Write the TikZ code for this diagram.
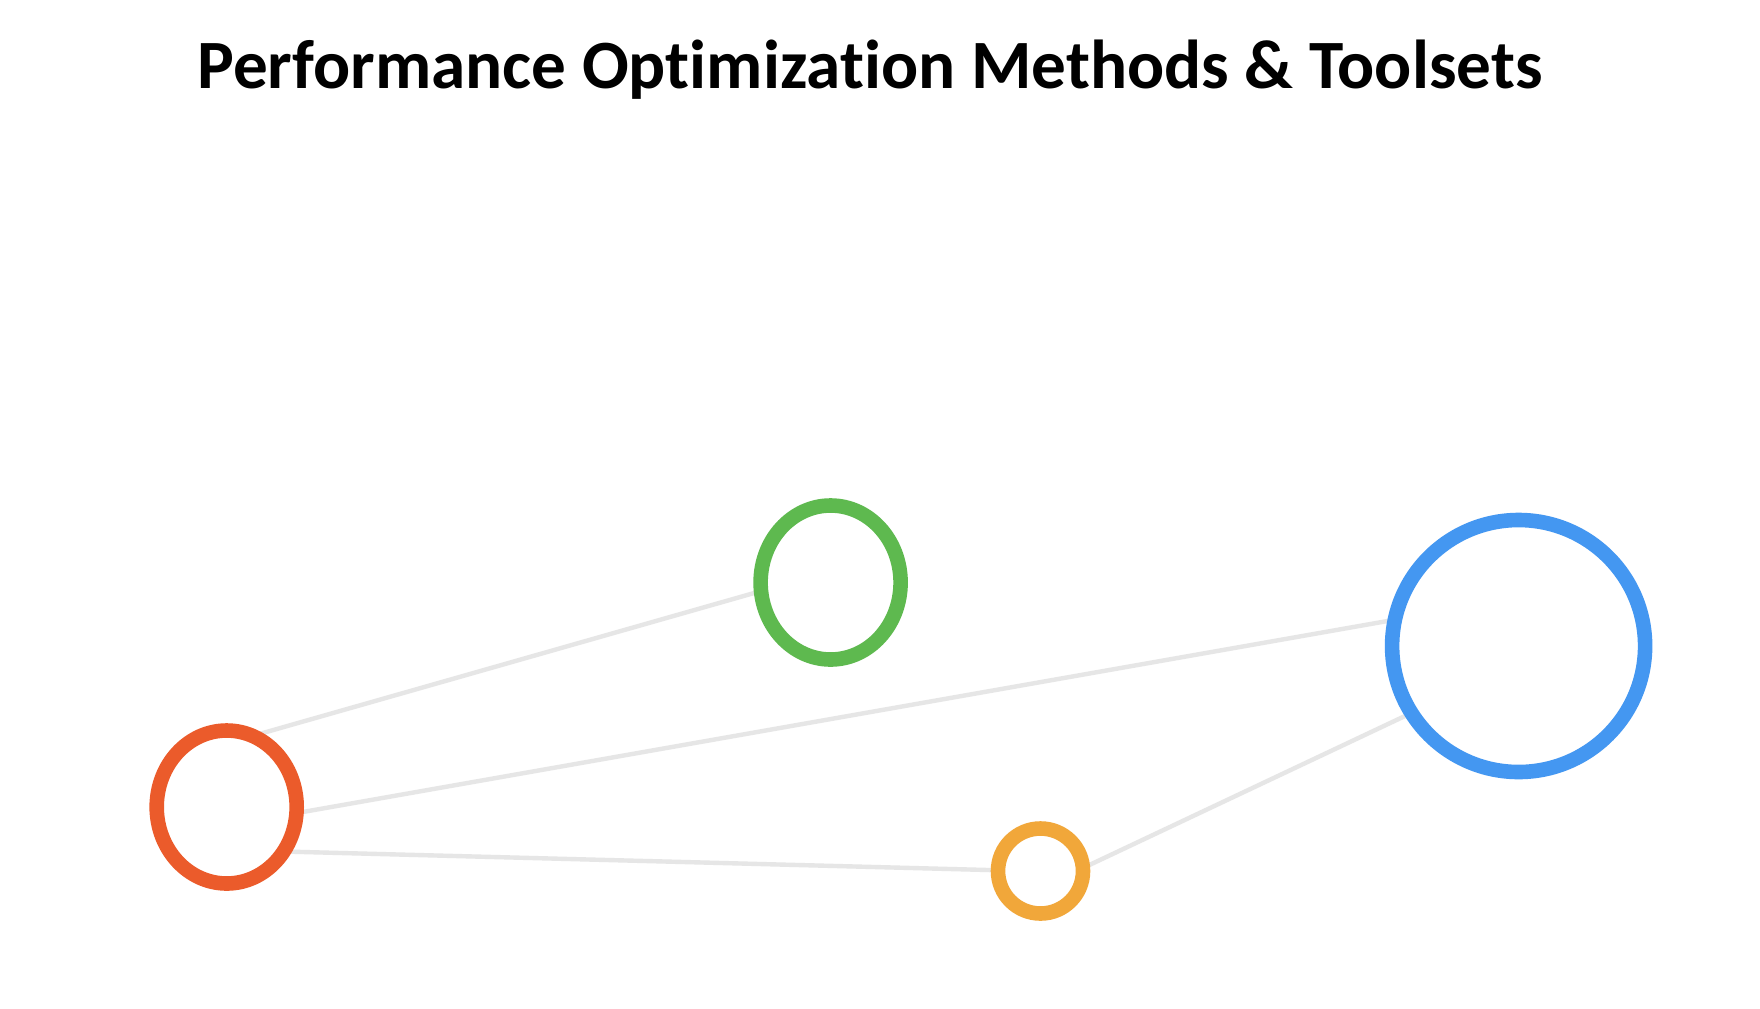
\documentclass[tikz,border=0pt]{standalone}
\usepackage{fontspec}
\setmainfont{Carlito}[RawFeature={-liga}]
\usetikzlibrary{shapes.geometric,backgrounds}
\definecolor{cred}{HTML}{EB5B2B}
\definecolor{cgreen}{HTML}{5EB94F}
\definecolor{cblue}{HTML}{4497F1}
\definecolor{corange}{HTML}{F1A73A}
\definecolor{clink}{HTML}{E6E6E6}
\begin{document}
\begin{tikzpicture}[x=0.5pt,y=-0.5pt,
  ring/.style={ellipse,draw,line width=7.3pt,inner sep=0pt,outer sep=0pt,fill=white},
  link/.style={draw=clink,line width=2.2pt,line cap=round}]
\useasboundingbox (0,0) rectangle (1760,1008);
\node[anchor=base,font=\bfseries\fontsize{34.6}{42}\selectfont] (title) at (870,88) {Performance Optimization Methods \& Toolsets};
\node[ring,draw=cred,minimum width=70pt,minimum height=76.5pt] (red) at (226.7,807) {};
\node[ring,draw=cgreen,minimum width=70pt,minimum height=77pt] (green) at (830.6,582.5) {};
\node[ring,draw=cblue,minimum width=126.5pt,minimum height=126pt] (blue) at (1518.6,646) {};
\node[ring,draw=corange,minimum width=42.5pt,minimum height=42.5pt] (orange) at (1040.5,871) {};
\begin{scope}[on background layer]
\fill[white] (0,0) rectangle (1760,1008);
\draw[link] (red.70) -- (green.187);
\draw[link] (red.-5) -- (blue.168);
\draw[link] (red.-38) -- (orange.179);
\draw[link] (orange.4) -- (blue.-148);
\end{scope}
\end{tikzpicture}
\end{document}
